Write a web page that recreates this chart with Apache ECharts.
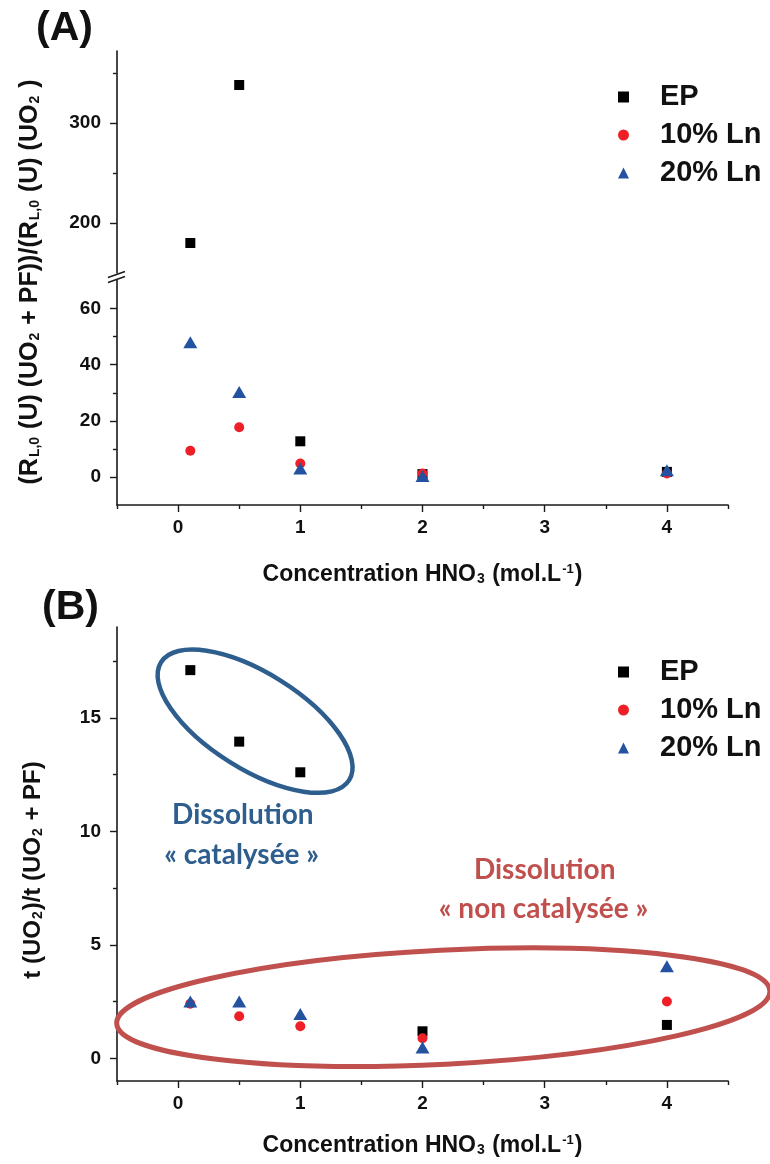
<!DOCTYPE html>
<html>
<head>
<meta charset="utf-8">
<script src="https://cdn.jsdelivr.net/npm/echarts@6/dist/echarts.min.js"></script>
<style>
html,body{margin:0;padding:0;background:#fff;}
#chart{width:770px;height:1164px;}
</style>
</head>
<body>
<div id="chart"></div>
<script>
// ---------- data ----------
const seriesNames = ['EP', '10% Ln', '20% Ln'];
const concentrations = [0.1, 0.5, 1, 2, 4];
// Panel A : (R_L,0(U)(UO2+PF))/(R_L,0(U)(UO2))
const aEP   = [180, 338, 12.7, 1.0, 1.8];
const aLn10 = [9.3, 17.7, 4.8, 1.2, 1.2];
const aLn20 = [48, 30.3, 3.0, 0.3, 2.4];
// Panel B : t(UO2)/t(UO2+PF)
const bEP   = [17.1, 13.95, 12.6, 1.19, 1.47];
const bLn10 = [2.4, 1.85, 1.41, 0.88, 2.5];
const bLn20 = [2.5, 2.5, 1.95, 0.48, 4.05];
// tick labels
const xTicks = [0, 1, 2, 3, 4];
const xMinorTicks = [-0.5, 0.5, 1.5, 2.5, 3.5, 4.5];
const aUpperTicks = [200, 300];
const aUpperMinor = [250, 350];
const aLowerTicks = [0, 20, 40, 60];
const aLowerMinor = [10, 30, 50];
const bTicks = [0, 5, 10, 15];
const bMinor = [2.5, 7.5, 12.5, 17.5];

// ---------- style ----------
const FONT = 'Liberation Sans, Arial, sans-serif';
const ANNOT_FONT = 'Lato, Open Sans, sans-serif';
const colors = {EP: '#000000', '10% Ln': '#ee1f26', '20% Ln': '#2352a0'};
const symbols = {EP: 'rect', '10% Ln': 'circle', '20% Ln': 'triangle'};
const symbolSizes = {EP: 10, '10% Ln': 10, '20% Ln': [14, 12]};
const axisColor = '#1a1a1a';
const rich = {
  sub: {fontSize: 14, fontWeight: 'bold', fontFamily: FONT, verticalAlign: 'bottom', lineHeight: 10, padding: [0, 1, 0, 1]},
  sup: {fontSize: 13, fontWeight: 'bold', fontFamily: FONT, verticalAlign: 'top', lineHeight: 10, padding: [0, 1, 0, 1]}
};

function pairs(vals, filter) {
  const out = [];
  vals.forEach((v, i) => { if (filter(v)) out.push([concentrations[i], v]); });
  return out;
}

const labelStyle = {fontSize: 19, fontWeight: 'bold', fontFamily: FONT, color: '#111'};

function mainX(grid, name, nameGap) {
  return {
    type: 'value', gridIndex: grid, min: -0.5, max: 4.5, position: 'bottom',
    axisLine: {show: true, onZero: false, lineStyle: {color: axisColor, width: 1.6}},
    axisTick: {show: true, inside: false, length: 7, customValues: xTicks, lineStyle: {color: axisColor, width: 1.4}},
    axisLabel: {customValues: xTicks, margin: 13, ...labelStyle},
    splitLine: {show: false},
    name: name, nameLocation: 'middle', nameGap: nameGap, nameMoveOverlap: false,
    nameTextStyle: {fontSize: 23, fontWeight: 'bold', fontFamily: FONT, color: '#111', rich: rich}
  };
}
function minorX(grid) {
  return {
    type: 'value', gridIndex: grid, min: -0.5, max: 4.5, position: 'bottom',
    axisLine: {show: false, onZero: false},
    axisTick: {show: true, inside: false, length: 4, customValues: xMinorTicks, lineStyle: {color: axisColor, width: 1.4}},
    axisLabel: {show: false, customValues: xMinorTicks},
    splitLine: {show: false}
  };
}
function mainY(grid, min, max, ticks) {
  return {
    type: 'value', gridIndex: grid, min: min, max: max, position: 'left',
    axisLine: {show: true, onZero: false, lineStyle: {color: axisColor, width: 1.6}},
    axisTick: {show: true, inside: false, length: 7, customValues: ticks, lineStyle: {color: axisColor, width: 1.4}},
    axisLabel: {customValues: ticks, margin: 16, ...labelStyle},
    splitLine: {show: false}
  };
}
function minorY(grid, min, max, ticks) {
  return {
    type: 'value', gridIndex: grid, min: min, max: max, position: 'left',
    axisLine: {show: false, onZero: false},
    axisTick: {show: true, inside: false, length: 4, customValues: ticks, lineStyle: {color: axisColor, width: 1.4}},
    axisLabel: {show: false, customValues: ticks},
    splitLine: {show: false}
  };
}

function scatter(name, data, xi, yi) {
  return {
    type: 'scatter', name: name, xAxisIndex: xi, yAxisIndex: yi, data: data,
    symbol: symbols[name], symbolSize: symbolSizes[name], clip: true,
    itemStyle: {color: colors[name], opacity: 1},
    emphasis: {disabled: true}, animation: false
  };
}

const legendCommon = {
  data: seriesNames, orient: 'vertical', left: 613, itemWidth: 11, itemHeight: 11, itemGap: 8,
  selectedMode: false,
  textStyle: {fontSize: 29, fontWeight: 'bold', fontFamily: FONT, color: '#111', lineHeight: 30, padding: [0, 0, 0, 26]}
};

const chart = echarts.init(document.getElementById('chart'), null, {renderer: 'canvas'});

const option = {
  backgroundColor: '#ffffff',
  animation: false,
  title: [
    {text: '(A)', left: 31, top: 3, textStyle: {fontSize: 41, fontWeight: 'bold', fontFamily: FONT, color: '#111'}},
    {text: '(B)', left: 37, top: 582, textStyle: {fontSize: 41, fontWeight: 'bold', fontFamily: FONT, color: '#111'}}
  ],
  legend: [
    Object.assign({}, legendCommon, {top: 77}),
    Object.assign({}, legendCommon, {top: 652})
  ],
  grid: [
    {left: 117, width: 611, top: 51, height: 222},   // A upper segment
    {left: 117, width: 611, top: 280.5, height: 224.5}, // A lower segment
    {left: 117, width: 611, top: 627, height: 454}    // B
  ],
  xAxis: [
    {type: 'value', gridIndex: 0, min: -0.5, max: 4.5, show: false},
    mainX(1, 'Concentration HNO{sub|3} (mol.L{sup|-1})', 58),
    minorX(1),
    mainX(2, 'Concentration HNO{sub|3} (mol.L{sup|-1})', 53),
    minorX(2)
  ],
  yAxis: [
    mainY(0, 150, 372, aUpperTicks),
    minorY(0, 150, 372, aUpperMinor),
    mainY(1, -10, 70, aLowerTicks),
    minorY(1, -10, 70, aLowerMinor),
    mainY(2, -1, 19, bTicks),
    minorY(2, -1, 19, bMinor)
  ],
  series: [
    scatter('EP', pairs(aEP, v => v >= 150), 0, 0),
    scatter('10% Ln', pairs(aLn10, v => v >= 150), 0, 0),
    scatter('20% Ln', pairs(aLn20, v => v >= 150), 0, 0),
    scatter('EP', pairs(aEP, v => v <= 70), 1, 2),
    scatter('10% Ln', pairs(aLn10, v => v <= 70), 1, 2),
    scatter('20% Ln', pairs(aLn20, v => v <= 70), 1, 2),
    scatter('EP', pairs(bEP, v => true), 3, 4),
    scatter('10% Ln', pairs(bLn10, v => true), 3, 4),
    scatter('20% Ln', pairs(bLn20, v => true), 3, 4)
  ]
};
chart.setOption(option);

// ---------- annotations (placed in data coordinates of panel B) ----------
function px(x, y) { return chart.convertToPixel({xAxisIndex: 3, yAxisIndex: 4}, [x, y]); }
const blueC = px(0.63, 14.85);
const redC = px(2.17, 2.25);
const t1 = px(0.53, 10.7), t2 = px(0.52, 8.94), t3 = px(3.0, 8.28), t4 = px(2.99, 6.56);
const breakAxis = chart.convertToPixel({xAxisIndex: 1, yAxisIndex: 2}, [-0.5, 70]);

chart.setOption({
  graphic: [
    // y-axis title panel A
    {type: 'text', x: 30, y: 282, rotation: Math.PI / 2,
     style: {text: '(R{sub|L,0} (U) (UO{sub|2} + PF))/(R{sub|L,0} (U) (UO{sub|2} )', align: 'center', verticalAlign: 'middle',
             fontSize: 25, fontWeight: 'bold', fontFamily: FONT, fill: '#111', rich: rich}},
    // y-axis title panel B
    {type: 'text', x: 33, y: 870, rotation: Math.PI / 2,
     style: {text: 't (UO{sub|2})/t (UO{sub|2} + PF)', align: 'center', verticalAlign: 'middle',
             fontSize: 24, fontWeight: 'bold', fontFamily: FONT, fill: '#111', rich: rich}},
    // axis break marks
    {type: 'line', shape: {x1: breakAxis[0] - 9, y1: breakAxis[1] - 3, x2: breakAxis[0] + 8, y2: breakAxis[1] - 9},
     style: {stroke: axisColor, lineWidth: 1.4}},
    {type: 'line', shape: {x1: breakAxis[0] - 9, y1: breakAxis[1] + 2, x2: breakAxis[0] + 8, y2: breakAxis[1] - 4},
     style: {stroke: axisColor, lineWidth: 1.4}},
    // ellipses
    {type: 'ellipse', x: blueC[0], y: blueC[1], rotation: -0.56, z: 10,
     shape: {cx: 0, cy: 0, rx: 111, ry: 48}, style: {fill: 'none', stroke: '#2e5e8e', lineWidth: 4.5}},
    {type: 'ellipse', x: redC[0], y: redC[1], rotation: 0.05, z: 10,
     shape: {cx: 0, cy: 0, rx: 327, ry: 57}, style: {fill: 'none', stroke: '#c0504d', lineWidth: 5}},
    // annotation texts
    {type: 'text', x: t1[0], y: t1[1], style: {text: 'Dissolution', align: 'center', verticalAlign: 'middle', fontSize: 28, fontWeight: 'bold', fontFamily: ANNOT_FONT, fill: '#2e5e8e'}},
    {type: 'text', x: t2[0], y: t2[1], style: {text: '« catalysée »', align: 'center', verticalAlign: 'middle', fontSize: 28, fontWeight: 'bold', fontFamily: ANNOT_FONT, fill: '#2e5e8e'}},
    {type: 'text', x: t3[0], y: t3[1], style: {text: 'Dissolution', align: 'center', verticalAlign: 'middle', fontSize: 28, fontWeight: 'bold', fontFamily: ANNOT_FONT, fill: '#c0504d'}},
    {type: 'text', x: t4[0], y: t4[1], style: {text: '« non catalysée »', align: 'center', verticalAlign: 'middle', fontSize: 28, fontWeight: 'bold', fontFamily: ANNOT_FONT, fill: '#c0504d'}}
  ]
});
</script>
</body>
</html>
